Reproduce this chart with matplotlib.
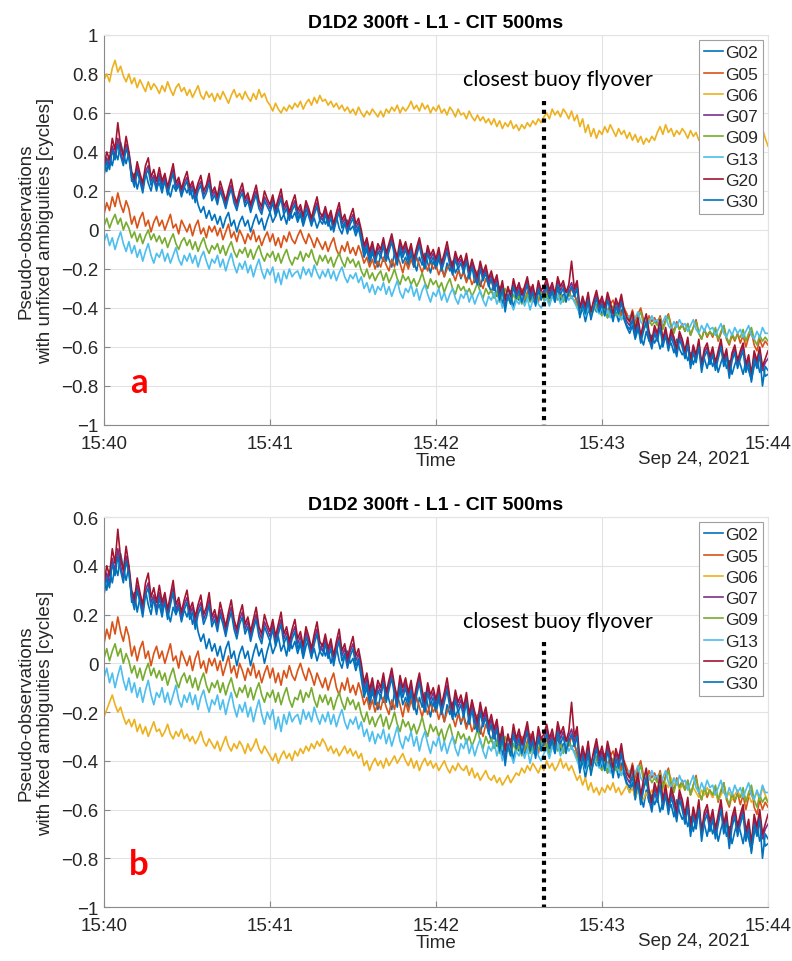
import numpy as np
import pandas as pd
import matplotlib
matplotlib.use('Agg')
import matplotlib.pyplot as plt
import matplotlib.dates as mdates
from matplotlib.ticker import FuncFormatter

# time axis: one sample per second from 15:40:00 to 15:44:00
times = pd.date_range('2021-09-24 15:40:00', '2021-09-24 15:44:00', freq='1s')
flyover = pd.Timestamp('2021-09-24 15:42:39')

sats = ['G02', 'G05', 'G06', 'G07', 'G09', 'G13', 'G20', 'G30']
colors = ['#0072BD', '#D95319', '#EDB120', '#7E2F8E', '#77AC30', '#4DBEEE', '#A2142F', '#0072BD']

g02 = [0.35, 0.30, 0.38, 0.33, 0.40, 0.36, 0.45, 0.39, 0.34, 0.40,
       0.25, 0.29, 0.21, 0.27, 0.23, 0.30, 0.24, 0.20, 0.27, 0.22,
       0.24, 0.19, 0.26, 0.21, 0.17, 0.23, 0.20, 0.25, 0.18, 0.22,
       0.19, 0.23, 0.16, 0.20, 0.13, 0.09, 0.12, 0.06, 0.10, 0.05,
       0.08, 0.03, 0.07, 0.01, 0.06, 0.09, 0.02, 0.05, -0.01, 0.04,
       0.07, 0.02, 0.05, -0.01, 0.04, 0.08, 0.03, 0.06, 0.00, 0.05,
       0.09, 0.04, 0.07, 0.11, 0.05, 0.08, 0.03, 0.10, 0.06, 0.09,
       0.04, 0.08, 0.02, 0.07, 0.10, 0.03, 0.06, 0.01, 0.05, 0.08,
       0.03, 0.06, 0.00, 0.04, 0.07, 0.01, -0.02, 0.03, 0.05, 0.00,
       0.02, -0.03, 0.01, -0.06, -0.14, -0.10, -0.17, -0.12, -0.15, -0.19,
       -0.13, -0.16, -0.10, -0.15, -0.19, -0.12, -0.16, -0.11, -0.17, -0.14,
       -0.18, -0.13, -0.16, -0.21, -0.14, -0.18, -0.12, -0.17, -0.22, -0.16,
       -0.20, -0.15, -0.19, -0.24, -0.17, -0.21, -0.16, -0.22, -0.19, -0.25,
       -0.21, -0.26, -0.22, -0.18, -0.27, -0.23, -0.29, -0.24, -0.21, -0.28,
       -0.32, -0.27, -0.34, -0.29, -0.38, -0.33, -0.36, -0.31, -0.40, -0.34,
       -0.36, -0.31, -0.38, -0.33, -0.30, -0.37, -0.34, -0.32, -0.36, -0.31,
       -0.34, -0.38, -0.32, -0.35, -0.30, -0.36, -0.33, -0.37, -0.31, -0.35,
       -0.33, -0.37, -0.44, -0.40, -0.47, -0.41, -0.44, -0.39, -0.42, -0.38,
       -0.43, -0.39, -0.45, -0.40, -0.44, -0.42, -0.47, -0.41, -0.46, -0.50,
       -0.53, -0.49, -0.56, -0.51, -0.55, -0.59, -0.52, -0.57, -0.54, -0.58,
       -0.55, -0.61, -0.57, -0.53, -0.60, -0.58, -0.63, -0.56, -0.61, -0.64,
       -0.62, -0.67, -0.63, -0.69, -0.64, -0.61, -0.68, -0.66, -0.71, -0.65,
       -0.70, -0.66, -0.73, -0.68, -0.64, -0.71, -0.67, -0.74, -0.69, -0.65,
       -0.69, -0.74, -0.67, -0.72, -0.77, -0.70, -0.66, -0.73, -0.69, -0.75,
       -0.74]

g05 = [0.08, 0.14, 0.10, 0.17, 0.12, 0.19, 0.13, 0.09, 0.15, 0.11,
       0.03, 0.07, 0.01, 0.06, 0.09, 0.02, 0.05, -0.01, 0.04, 0.07,
       0.02, 0.05, 0.00, 0.04, 0.08, 0.01, 0.03, -0.02, 0.05, 0.02,
       -0.01, 0.03, -0.03, 0.02, 0.05, -0.02, 0.01, -0.04, 0.02, -0.01,
       0.02, -0.03, 0.01, -0.05, -0.01, 0.03, -0.04, -0.01, -0.06, 0.00,
       -0.03, -0.07, -0.02, -0.05, 0.00, -0.06, -0.03, -0.08, -0.04, -0.01,
       -0.06, -0.02, -0.08, -0.04, -0.09, -0.03, -0.06, -0.01, -0.05, -0.07,
       -0.03, 0.00, -0.04, -0.07, -0.02, -0.05, -0.09, -0.04, -0.07, -0.10,
       -0.06, -0.11, -0.07, -0.04, -0.10, -0.13, -0.08, -0.11, -0.06, -0.12,
       -0.09, -0.13, -0.08, -0.12, -0.17, -0.14, -0.19, -0.15, -0.20, -0.16,
       -0.19, -0.14, -0.18, -0.21, -0.15, -0.19, -0.13, -0.17, -0.22, -0.16,
       -0.20, -0.15, -0.19, -0.14, -0.18, -0.22, -0.17, -0.21, -0.16, -0.20,
       -0.18, -0.23, -0.19, -0.24, -0.20, -0.17, -0.22, -0.26, -0.21, -0.24,
       -0.22, -0.27, -0.23, -0.28, -0.25, -0.21, -0.27, -0.30, -0.25, -0.28,
       -0.26, -0.31, -0.27, -0.33, -0.29, -0.35, -0.30, -0.33, -0.28, -0.32,
       -0.34, -0.30, -0.36, -0.32, -0.29, -0.35, -0.33, -0.37, -0.31, -0.34,
       -0.31, -0.35, -0.30, -0.34, -0.29, -0.33, -0.36, -0.31, -0.34, -0.30,
       -0.33, -0.37, -0.41, -0.38, -0.43, -0.39, -0.42, -0.37, -0.40, -0.36,
       -0.40, -0.37, -0.42, -0.38, -0.36, -0.41, -0.39, -0.44, -0.40, -0.43,
       -0.46, -0.41, -0.47, -0.43, -0.40, -0.46, -0.49, -0.44, -0.47, -0.45,
       -0.48, -0.44, -0.50, -0.46, -0.43, -0.49, -0.52, -0.47, -0.51, -0.48,
       -0.52, -0.48, -0.54, -0.50, -0.46, -0.53, -0.56, -0.51, -0.55, -0.52,
       -0.55, -0.51, -0.57, -0.53, -0.49, -0.56, -0.59, -0.54, -0.57, -0.53,
       -0.58, -0.54, -0.60, -0.55, -0.52, -0.59, -0.62, -0.56, -0.60, -0.57,
       -0.59]

g06_a = [0.77, 0.80, 0.76, 0.83, 0.87, 0.81, 0.84, 0.79, 0.76, 0.80,
         0.75, 0.78, 0.73, 0.77, 0.74, 0.71, 0.76, 0.72, 0.75, 0.73,
         0.70, 0.74, 0.71, 0.76, 0.72, 0.69, 0.73, 0.75, 0.71, 0.73,
         0.69, 0.72, 0.68, 0.71, 0.74, 0.69, 0.67, 0.71, 0.68, 0.70,
         0.66, 0.70, 0.67, 0.71, 0.68, 0.65, 0.69, 0.72, 0.68, 0.70,
         0.67, 0.71, 0.68, 0.66, 0.70, 0.67, 0.72, 0.68, 0.70, 0.66,
         0.64, 0.61, 0.65, 0.62, 0.60, 0.63, 0.61, 0.64, 0.62, 0.65,
         0.63, 0.66, 0.62, 0.65, 0.67, 0.64, 0.68, 0.65, 0.69, 0.66,
         0.67, 0.64, 0.66, 0.63, 0.65, 0.62, 0.64, 0.61, 0.63, 0.60,
         0.62, 0.59, 0.63, 0.60, 0.58, 0.61, 0.59, 0.62, 0.60, 0.58,
         0.61, 0.58, 0.62, 0.60, 0.63, 0.61, 0.64, 0.60, 0.63, 0.61,
         0.63, 0.66, 0.62, 0.64, 0.61, 0.65, 0.62, 0.64, 0.60, 0.63,
         0.61, 0.64, 0.60, 0.62, 0.59, 0.63, 0.61, 0.58, 0.62, 0.59,
         0.60, 0.57, 0.61, 0.58, 0.56, 0.59, 0.56, 0.58, 0.55, 0.57,
         0.54, 0.57, 0.53, 0.56, 0.52, 0.55, 0.53, 0.56, 0.52, 0.54,
         0.51, 0.54, 0.52, 0.55, 0.53, 0.56, 0.54, 0.57, 0.55, 0.58,
         0.60, 0.57, 0.62, 0.59, 0.61, 0.58, 0.62, 0.60, 0.57, 0.61,
         0.56, 0.59, 0.53, 0.57, 0.50, 0.54, 0.48, 0.52, 0.47, 0.51,
         0.49, 0.53, 0.50, 0.54, 0.51, 0.48, 0.52, 0.49, 0.51, 0.47,
         0.50, 0.46, 0.49, 0.45, 0.48, 0.44, 0.47, 0.45, 0.48, 0.46,
         0.50, 0.53, 0.49, 0.54, 0.50, 0.52, 0.48, 0.51, 0.49, 0.52,
         0.50, 0.47, 0.51, 0.48, 0.50, 0.46, 0.49, 0.47, 0.50, 0.48,
         0.46, 0.49, 0.45, 0.48, 0.46, 0.50, 0.47, 0.45, 0.48, 0.46,
         0.48, 0.45, 0.49, 0.46, 0.48, 0.45, 0.47, 0.50, 0.52, 0.47,
         0.43]

g06_b = [-0.22, -0.19, -0.16, -0.13, -0.17, -0.20, -0.18, -0.22, -0.25, -0.23,
         -0.26, -0.23, -0.28, -0.25, -0.29, -0.26, -0.30, -0.27, -0.24, -0.28,
         -0.27, -0.30, -0.28, -0.25, -0.29, -0.31, -0.28, -0.30, -0.27, -0.31,
         -0.29, -0.32, -0.30, -0.33, -0.31, -0.28, -0.32, -0.34, -0.31, -0.33,
         -0.35, -0.32, -0.36, -0.33, -0.30, -0.34, -0.36, -0.33, -0.35, -0.32,
         -0.34, -0.37, -0.33, -0.36, -0.34, -0.31, -0.35, -0.37, -0.34, -0.36,
         -0.38, -0.40, -0.37, -0.41, -0.38, -0.36, -0.39, -0.37, -0.40, -0.36,
         -0.38, -0.35, -0.37, -0.34, -0.36, -0.33, -0.35, -0.32, -0.34, -0.31,
         -0.33, -0.36, -0.34, -0.37, -0.35, -0.38, -0.36, -0.34, -0.37, -0.35,
         -0.38, -0.36, -0.39, -0.37, -0.42, -0.40, -0.44, -0.41, -0.39, -0.42,
         -0.40, -0.43, -0.39, -0.42, -0.40, -0.38, -0.41, -0.39, -0.37, -0.40,
         -0.42, -0.39, -0.43, -0.40, -0.44, -0.41, -0.39, -0.42, -0.40, -0.43,
         -0.41, -0.44, -0.42, -0.40, -0.43, -0.45, -0.42, -0.44, -0.41, -0.43,
         -0.44, -0.42, -0.46, -0.43, -0.47, -0.45, -0.48, -0.46, -0.44, -0.47,
         -0.48, -0.46, -0.49, -0.47, -0.50, -0.48, -0.46, -0.49, -0.47, -0.45,
         -0.46, -0.43, -0.45, -0.42, -0.44, -0.41, -0.43, -0.45, -0.42, -0.44,
         -0.40, -0.43, -0.41, -0.44, -0.42, -0.39, -0.43, -0.41, -0.44, -0.42,
         -0.45, -0.48, -0.46, -0.50, -0.47, -0.52, -0.49, -0.53, -0.51, -0.54,
         -0.51, -0.53, -0.50, -0.52, -0.49, -0.53, -0.51, -0.54, -0.52, -0.50,
         -0.53, -0.51, -0.55, -0.52, -0.54, -0.56, -0.53, -0.55, -0.52, -0.54,
         -0.51, -0.48, -0.52, -0.49, -0.51, -0.47, -0.50, -0.48, -0.52, -0.50,
         -0.52, -0.50, -0.54, -0.51, -0.53, -0.55, -0.52, -0.54, -0.51, -0.53,
         -0.55, -0.53, -0.56, -0.54, -0.52, -0.55, -0.53, -0.56, -0.54, -0.52,
         -0.55, -0.53, -0.56, -0.54, -0.57, -0.55, -0.53, -0.56, -0.51, -0.54,
         -0.57]

g07 = [0.31, 0.37, 0.33, 0.43, 0.38, 0.47, 0.40, 0.35, 0.44, 0.38,
       0.28, 0.24, 0.32, 0.27, 0.21, 0.30, 0.33, 0.25, 0.28, 0.22,
       0.29, 0.23, 0.27, 0.20, 0.26, 0.31, 0.22, 0.25, 0.19, 0.24,
       0.27, 0.20, 0.23, 0.16, 0.22, 0.25, 0.18, 0.21, 0.26, 0.17,
       0.20, 0.15, 0.22, 0.18, 0.13, 0.19, 0.23, 0.16, 0.12, 0.18,
       0.21, 0.14, 0.17, 0.11, 0.16, 0.20, 0.13, 0.10, 0.17, 0.14,
       0.11, 0.16, 0.09, 0.14, 0.18, 0.10, 0.13, 0.07, 0.12, 0.15,
       0.08, 0.11, 0.05, 0.13, 0.09, 0.04, 0.10, 0.14, 0.07, 0.05,
       0.10, 0.04, 0.08, 0.01, 0.07, 0.11, 0.03, 0.06, 0.00, 0.05,
       0.08, 0.01, 0.04, -0.02, -0.10, -0.06, -0.13, -0.08, -0.15, -0.09,
       -0.12, -0.06, -0.14, -0.09, -0.04, -0.11, -0.16, -0.07, -0.12, -0.08,
       -0.14, -0.09, -0.17, -0.11, -0.06, -0.13, -0.18, -0.10, -0.15, -0.12,
       -0.17, -0.11, -0.19, -0.14, -0.09, -0.16, -0.21, -0.13, -0.18, -0.15,
       -0.20, -0.14, -0.23, -0.17, -0.22, -0.26, -0.18, -0.24, -0.20, -0.27,
       -0.23, -0.29, -0.25, -0.34, -0.28, -0.39, -0.31, -0.36, -0.27, -0.33,
       -0.29, -0.35, -0.31, -0.26, -0.34, -0.30, -0.37, -0.28, -0.33, -0.31,
       -0.27, -0.33, -0.29, -0.35, -0.26, -0.31, -0.28, -0.34, -0.30, -0.27,
       -0.32, -0.28, -0.43, -0.36, -0.41, -0.34, -0.44, -0.38, -0.33, -0.40,
       -0.36, -0.42, -0.34, -0.39, -0.45, -0.37, -0.41, -0.35, -0.43, -0.47,
       -0.49, -0.44, -0.53, -0.47, -0.56, -0.50, -0.45, -0.54, -0.59, -0.51,
       -0.55, -0.48, -0.58, -0.52, -0.60, -0.53, -0.57, -0.63, -0.54, -0.58,
       -0.64, -0.57, -0.69, -0.61, -0.66, -0.58, -0.71, -0.63, -0.60, -0.67,
       -0.62, -0.70, -0.64, -0.58, -0.68, -0.63, -0.74, -0.65, -0.61, -0.69,
       -0.64, -0.60, -0.71, -0.66, -0.76, -0.64, -0.69, -0.62, -0.72, -0.68,
       -0.66]

g09 = [0.02, 0.06, 0.01, 0.05, 0.08, 0.03, 0.06, 0.00, 0.04, 0.01,
       -0.04, -0.01, -0.06, -0.02, -0.07, -0.03, 0.00, -0.05, -0.02, -0.06,
       -0.03, -0.07, -0.04, -0.09, -0.05, -0.02, -0.07, -0.10, -0.06, -0.04,
       -0.08, -0.05, -0.10, -0.06, -0.11, -0.07, -0.04, -0.09, -0.12, -0.08,
       -0.10, -0.07, -0.12, -0.08, -0.13, -0.09, -0.06, -0.11, -0.14, -0.10,
       -0.12, -0.09, -0.14, -0.10, -0.15, -0.11, -0.08, -0.13, -0.16, -0.12,
       -0.14, -0.11, -0.16, -0.12, -0.17, -0.13, -0.10, -0.15, -0.18, -0.14,
       -0.15, -0.11, -0.16, -0.12, -0.14, -0.10, -0.15, -0.18, -0.13, -0.16,
       -0.13, -0.17, -0.14, -0.19, -0.15, -0.12, -0.16, -0.19, -0.14, -0.17,
       -0.15, -0.19, -0.16, -0.21, -0.24, -0.20, -0.25, -0.22, -0.26, -0.23,
       -0.21, -0.26, -0.22, -0.27, -0.24, -0.20, -0.25, -0.28, -0.23, -0.26,
       -0.24, -0.28, -0.25, -0.29, -0.26, -0.22, -0.27, -0.30, -0.25, -0.28,
       -0.26, -0.30, -0.27, -0.32, -0.28, -0.25, -0.30, -0.33, -0.28, -0.31,
       -0.29, -0.33, -0.30, -0.34, -0.31, -0.27, -0.32, -0.35, -0.30, -0.33,
       -0.31, -0.35, -0.32, -0.37, -0.33, -0.30, -0.35, -0.38, -0.33, -0.36,
       -0.34, -0.38, -0.35, -0.33, -0.37, -0.34, -0.38, -0.35, -0.32, -0.36,
       -0.33, -0.37, -0.34, -0.31, -0.36, -0.33, -0.37, -0.34, -0.32, -0.35,
       -0.36, -0.39, -0.42, -0.39, -0.43, -0.40, -0.44, -0.41, -0.38, -0.42,
       -0.44, -0.40, -0.45, -0.41, -0.39, -0.44, -0.42, -0.46, -0.43, -0.45,
       -0.47, -0.43, -0.49, -0.45, -0.42, -0.48, -0.50, -0.46, -0.49, -0.47,
       -0.49, -0.45, -0.51, -0.47, -0.44, -0.50, -0.53, -0.48, -0.51, -0.49,
       -0.52, -0.48, -0.54, -0.50, -0.47, -0.53, -0.56, -0.51, -0.54, -0.52,
       -0.54, -0.50, -0.56, -0.52, -0.49, -0.55, -0.58, -0.53, -0.56, -0.54,
       -0.55, -0.51, -0.57, -0.53, -0.50, -0.56, -0.59, -0.54, -0.57, -0.55,
       -0.57]

g13 = [-0.06, -0.02, -0.08, -0.04, -0.10, -0.05, -0.01, -0.07, -0.11, -0.06,
       -0.12, -0.08, -0.14, -0.10, -0.16, -0.11, -0.07, -0.13, -0.17, -0.12,
       -0.14, -0.10, -0.16, -0.12, -0.17, -0.13, -0.09, -0.15, -0.18, -0.13,
       -0.16, -0.12, -0.17, -0.13, -0.19, -0.14, -0.11, -0.16, -0.20, -0.15,
       -0.17, -0.13, -0.19, -0.15, -0.21, -0.16, -0.12, -0.18, -0.22, -0.17,
       -0.20, -0.16, -0.22, -0.18, -0.24, -0.19, -0.15, -0.21, -0.25, -0.20,
       -0.23, -0.19, -0.27, -0.22, -0.28, -0.21, -0.25, -0.20, -0.24, -0.22,
       -0.21, -0.25, -0.19, -0.23, -0.20, -0.24, -0.18, -0.22, -0.25, -0.21,
       -0.24, -0.20, -0.25, -0.21, -0.26, -0.22, -0.19, -0.24, -0.27, -0.23,
       -0.25, -0.22, -0.27, -0.24, -0.30, -0.27, -0.32, -0.28, -0.33, -0.29,
       -0.31, -0.27, -0.33, -0.29, -0.34, -0.30, -0.26, -0.32, -0.35, -0.30,
       -0.32, -0.28, -0.34, -0.30, -0.36, -0.31, -0.28, -0.33, -0.37, -0.32,
       -0.34, -0.30, -0.36, -0.32, -0.37, -0.33, -0.30, -0.35, -0.38, -0.33,
       -0.35, -0.31, -0.37, -0.33, -0.38, -0.34, -0.31, -0.36, -0.39, -0.34,
       -0.36, -0.32, -0.38, -0.34, -0.40, -0.35, -0.32, -0.37, -0.41, -0.36,
       -0.38, -0.34, -0.39, -0.35, -0.41, -0.36, -0.33, -0.38, -0.40, -0.37,
       -0.35, -0.39, -0.34, -0.37, -0.33, -0.38, -0.35, -0.32, -0.36, -0.34,
       -0.37, -0.40, -0.43, -0.39, -0.44, -0.40, -0.42, -0.38, -0.41, -0.43,
       -0.40, -0.44, -0.41, -0.45, -0.42, -0.39, -0.44, -0.46, -0.42, -0.45,
       -0.44, -0.48, -0.45, -0.42, -0.47, -0.49, -0.45, -0.48, -0.44, -0.47,
       -0.46, -0.50, -0.47, -0.44, -0.49, -0.51, -0.47, -0.50, -0.46, -0.49,
       -0.48, -0.52, -0.49, -0.46, -0.51, -0.53, -0.49, -0.52, -0.48, -0.51,
       -0.50, -0.54, -0.51, -0.48, -0.53, -0.55, -0.51, -0.54, -0.50, -0.53,
       -0.51, -0.55, -0.52, -0.49, -0.54, -0.56, -0.52, -0.55, -0.50, -0.53,
       -0.53]

g20 = [0.33, 0.40, 0.36, 0.47, 0.41, 0.55, 0.43, 0.38, 0.48, 0.40,
       0.30, 0.26, 0.35, 0.29, 0.24, 0.33, 0.37, 0.27, 0.31, 0.25,
       0.32, 0.25, 0.29, 0.22, 0.28, 0.34, 0.24, 0.27, 0.21, 0.26,
       0.30, 0.22, 0.25, 0.19, 0.24, 0.28, 0.20, 0.23, 0.29, 0.19,
       0.22, 0.17, 0.25, 0.20, 0.15, 0.21, 0.26, 0.18, 0.14, 0.20,
       0.24, 0.16, 0.19, 0.13, 0.18, 0.23, 0.15, 0.12, 0.20, 0.16,
       0.13, 0.18, 0.11, 0.16, 0.21, 0.12, 0.15, 0.09, 0.14, 0.18,
       0.10, 0.13, 0.07, 0.15, 0.11, 0.06, 0.12, 0.17, 0.09, 0.07,
       0.12, 0.06, 0.10, 0.03, 0.09, 0.14, 0.05, 0.08, 0.02, 0.07,
       0.11, 0.03, 0.06, 0.00, -0.08, -0.04, -0.11, -0.06, -0.13, -0.07,
       -0.10, -0.04, -0.12, -0.07, -0.02, -0.09, -0.14, -0.05, -0.10, -0.06,
       -0.12, -0.07, -0.15, -0.09, -0.04, -0.11, -0.16, -0.08, -0.13, -0.10,
       -0.15, -0.09, -0.17, -0.12, -0.06, -0.14, -0.19, -0.11, -0.16, -0.13,
       -0.18, -0.12, -0.21, -0.15, -0.20, -0.24, -0.16, -0.22, -0.18, -0.25,
       -0.21, -0.27, -0.23, -0.32, -0.26, -0.36, -0.29, -0.34, -0.25, -0.31,
       -0.27, -0.33, -0.29, -0.24, -0.32, -0.28, -0.35, -0.26, -0.31, -0.29,
       -0.25, -0.31, -0.27, -0.33, -0.24, -0.29, -0.26, -0.32, -0.28, -0.16,
       -0.30, -0.26, -0.40, -0.34, -0.39, -0.32, -0.42, -0.36, -0.31, -0.38,
       -0.34, -0.40, -0.32, -0.37, -0.43, -0.35, -0.39, -0.33, -0.41, -0.45,
       -0.47, -0.42, -0.51, -0.45, -0.54, -0.48, -0.43, -0.52, -0.57, -0.49,
       -0.53, -0.46, -0.56, -0.50, -0.58, -0.51, -0.55, -0.61, -0.52, -0.56,
       -0.62, -0.55, -0.67, -0.59, -0.64, -0.56, -0.69, -0.61, -0.58, -0.65,
       -0.60, -0.68, -0.62, -0.56, -0.66, -0.61, -0.72, -0.63, -0.59, -0.67,
       -0.62, -0.58, -0.69, -0.64, -0.74, -0.62, -0.67, -0.60, -0.70, -0.66,
       -0.62]

g30 = [0.28, 0.35, 0.31, 0.41, 0.36, 0.44, 0.38, 0.33, 0.42, 0.37,
       0.27, 0.22, 0.30, 0.25, 0.19, 0.28, 0.31, 0.23, 0.26, 0.20,
       0.27, 0.21, 0.25, 0.18, 0.24, 0.29, 0.20, 0.23, 0.17, 0.22,
       0.25, 0.18, 0.21, 0.14, 0.20, 0.23, 0.16, 0.19, 0.24, 0.15,
       0.18, 0.13, 0.20, 0.16, 0.11, 0.17, 0.21, 0.14, 0.10, 0.16,
       0.19, 0.12, 0.15, 0.09, 0.14, 0.18, 0.11, 0.08, 0.15, 0.12,
       0.09, 0.14, 0.07, 0.12, 0.16, 0.08, 0.11, 0.05, 0.10, 0.13,
       0.06, 0.09, 0.03, 0.11, 0.07, 0.02, 0.08, 0.12, 0.05, 0.03,
       0.08, 0.02, 0.06, -0.01, 0.05, 0.09, 0.01, 0.04, -0.02, 0.03,
       0.06, -0.01, 0.02, -0.04, -0.12, -0.08, -0.15, -0.10, -0.17, -0.11,
       -0.14, -0.08, -0.16, -0.11, -0.06, -0.13, -0.18, -0.09, -0.14, -0.10,
       -0.16, -0.11, -0.19, -0.13, -0.08, -0.15, -0.20, -0.12, -0.17, -0.14,
       -0.19, -0.13, -0.21, -0.16, -0.11, -0.18, -0.23, -0.15, -0.20, -0.17,
       -0.22, -0.16, -0.25, -0.19, -0.24, -0.28, -0.20, -0.26, -0.22, -0.29,
       -0.25, -0.31, -0.27, -0.36, -0.30, -0.42, -0.33, -0.38, -0.29, -0.35,
       -0.31, -0.37, -0.33, -0.28, -0.36, -0.32, -0.39, -0.30, -0.35, -0.33,
       -0.29, -0.35, -0.31, -0.37, -0.28, -0.33, -0.30, -0.36, -0.32, -0.29,
       -0.34, -0.30, -0.45, -0.38, -0.43, -0.36, -0.46, -0.40, -0.35, -0.42,
       -0.38, -0.44, -0.36, -0.41, -0.47, -0.39, -0.43, -0.37, -0.45, -0.49,
       -0.51, -0.46, -0.55, -0.49, -0.58, -0.52, -0.47, -0.56, -0.61, -0.53,
       -0.57, -0.50, -0.60, -0.54, -0.62, -0.55, -0.59, -0.65, -0.56, -0.60,
       -0.66, -0.59, -0.71, -0.63, -0.68, -0.60, -0.73, -0.65, -0.62, -0.69,
       -0.64, -0.72, -0.66, -0.60, -0.70, -0.65, -0.76, -0.67, -0.63, -0.71,
       -0.66, -0.62, -0.73, -0.68, -0.78, -0.66, -0.71, -0.64, -0.80, -0.70,
       -0.72]

series_a = [g02, g05, g06_a, g07, g09, g13, g20, g30]
series_b = [g02, g05, g06_b, g07, g09, g13, g20, g30]

title = 'D1D2 300ft - L1 - CIT 500ms'
ylabels = ['Pseudo-observations\nwith unfixed ambiguities [cycles]',
           'Pseudo-observations\nwith fixed ambiguities [cycles]']

plt.rcParams['font.family'] = ['Liberation Sans', 'DejaVu Sans']

fig = plt.figure(figsize=(7.92, 9.62), dpi=100)
ax_a = fig.add_axes([0.1313, 0.5572, 0.8384, 0.4054])
ax_b = fig.add_axes([0.1313, 0.0561, 0.8384, 0.4054])

tick_col = '#262626'


def fmt_y(v, pos):
    if abs(v) < 1e-9:
        return '0'
    return ('%g' % round(v, 1)).replace('-', '\u2212')


def setup(ax, ylim, yticks, ylabel, tag, fly_top, text_y, series):
    for name, col, vals in zip(sats, colors, series):
        ax.plot(times, vals, color=col, lw=1.2, label=name)
    ax.set_xlim(times[0], times[-1])
    ax.set_ylim(*ylim)
    ax.set_yticks(yticks)
    ax.yaxis.set_major_formatter(FuncFormatter(fmt_y))
    ax.xaxis.set_major_locator(mdates.MinuteLocator())
    ax.xaxis.set_major_formatter(mdates.DateFormatter('%H:%M'))
    ax.grid(True, color='#e3e3e3', lw=0.8)
    ax.set_axisbelow(True)
    for s in ['left', 'bottom']:
        ax.spines[s].set_color('#8a8a8a')
    for s in ['top', 'right']:
        ax.spines[s].set_color('#e3e3e3')
    ax.tick_params(direction='in', length=4, labelsize=13.5, colors='#8a8a8a',
                   labelcolor=tick_col)
    ax.tick_params(axis='x', pad=7)
    ax.tick_params(axis='y', pad=4)
    ax.set_title(title, fontsize=14, fontweight='bold', pad=6)
    ax.set_ylabel(ylabel, fontsize=13.5, color=tick_col, labelpad=5)
    ax.set_xlabel('Time', fontsize=13.5, color=tick_col, labelpad=0)
    ax.text(0.973, -0.087, 'Sep 24, 2021', transform=ax.transAxes, ha='right', va='center',
            fontsize=13.5, color=tick_col)

    # closest buoy flyover marker
    ax.plot([flyover, flyover], [fly_top, ylim[0]], color='black', lw=3,
            linestyle=(0, (1, 1.1)))
    ax.text(pd.Timestamp('2021-09-24 15:42:44'), text_y, 'closest buoy flyover',
            ha='center', va='center', fontsize=15.5, family=['Lato', 'DejaVu Sans'])
    ax.text(0.053, 0.11, tag, transform=ax.transAxes, ha='center', va='center',
            fontsize=25, fontweight='bold', color='#ff0000', family=['Lato', 'DejaVu Sans'])

    leg = ax.legend(loc='upper right', bbox_to_anchor=(0.9925, 0.987), fontsize=12.5,
                    handlelength=1.1, handletextpad=0.1, labelspacing=0.35,
                    borderpad=0.3, borderaxespad=0.0, fancybox=False, framealpha=1)
    leg.get_frame().set_edgecolor('#a0a0a0')
    leg.get_frame().set_linewidth(0.8)
    for t in leg.get_texts():
        t.set_color(tick_col)


setup(ax_a, (-1, 1), np.arange(-1, 1.01, 0.2), ylabels[0], 'a', 0.66, 0.775, series_a)
setup(ax_b, (-1, 0.6), np.arange(-1, 0.61, 0.2), ylabels[1], 'b', 0.087, 0.173, series_b)

fig.savefig('out.png', dpi=100)
